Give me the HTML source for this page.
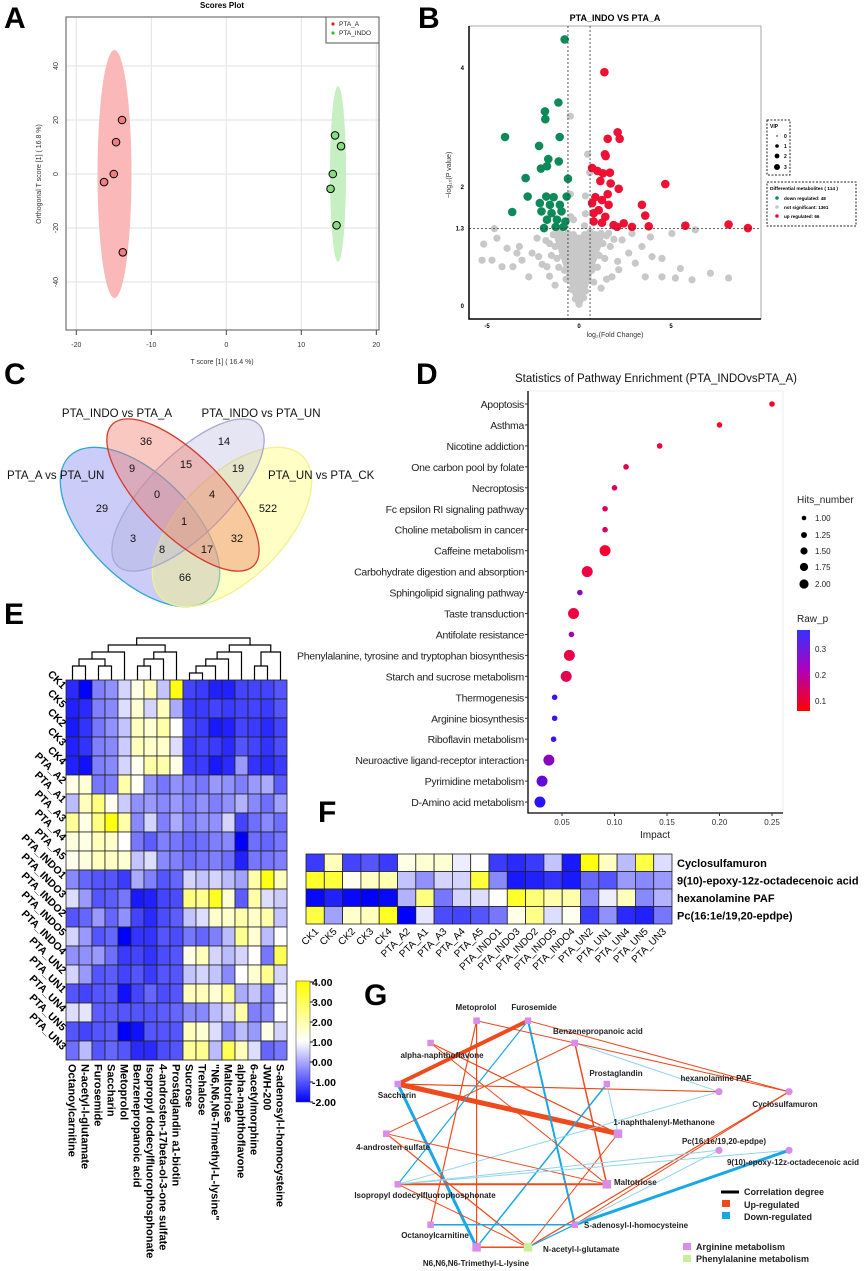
<!DOCTYPE html>
<html><head><meta charset="utf-8"><style>
html,body{margin:0;padding:0;background:#fff}
svg{display:block;font-family:"Liberation Sans",sans-serif}
</style></head><body>
<svg id="fig" width="864" height="1271" viewBox="0 0 864 1271" xmlns="http://www.w3.org/2000/svg"></svg>
<script>
// ---------- DATA ----------
// Panel A
const aRedX=[-13.9,-14.7,-15.0,-16.3,-13.8];
const aRedY=[20,11.8,0,-3,-29];
const aGreenX=[14.5,15.3,14.2,13.9,14.7];
const aGreenY=[14.3,10.3,0,-5.5,-19];
const aXTicks=[-20,-10,0,10,20];
const aYTicks=[-40,-20,0,20,40];
// Panel B
const bDown=[[-0.78,4.48],[-1.12,3.42],[-1.85,3.27],[-1.83,3.14],[-4.02,2.84],[-1.05,2.84],[-2.17,2.69],[-1.67,2.47],[-1.1,2.43],[-1.74,2.35],[-2.07,2.31],[-2.9,2.15],[-0.6,2.14],[-2.79,1.84],[-1.78,1.84],[-1.38,1.83],[-0.67,1.84],[-3.63,1.58],[-2.13,1.73],[-1.58,1.7],[-1.04,1.7],[-2.04,1.59],[-1.49,1.56],[-0.95,1.59],[-1.74,1.45],[-1.2,1.45],[-0.74,1.42],[-1.9,1.31],[-1.27,1.33],[-0.85,1.33]];
const bUp=[[1.38,3.93],[2.1,2.92],[1.56,2.81],[2.21,2.81],[1.41,2.55],[1.45,2.52],[0.71,2.32],[1.0,2.27],[1.3,2.23],[1.68,2.24],[1.16,2.1],[1.72,2.06],[2.16,1.97],[4.69,2.05],[1.56,1.88],[0.89,1.83],[0.71,1.73],[1.25,1.78],[3.42,1.7],[3.6,1.52],[1.61,1.7],[1.07,1.61],[0.8,1.56],[1.43,1.5],[0.8,1.42],[1.25,1.4],[1.88,1.36],[2.43,1.39],[2.07,1.33],[2.88,1.33],[3.79,1.34],[5.78,1.35],[8.13,1.37],[9.18,1.31]];
const bNs=[[-0.47,3.19],[0.47,2.55],[0.58,2.24],[0.35,1.85],[-0.47,1.88],[0.35,1.55],[-0.3,1.45],[0.3,1.35],[-0.45,1.5],
[-4.6,1.3],[-4.46,1.14],[-5.18,1.04],[-3.91,0.97],[-5.27,0.77],[-4.73,0.77],[-3.59,0.66],[-3.24,1.0],[-3.1,0.77],[-2.73,0.49],[-2.55,0.89],[-2.19,0.83],[-2.28,1.14],[-1.74,0.66],[-3.37,0.89],[-4.18,0.66],
[2.88,1.22],[3.88,1.16],[5.05,1.22],[6.32,1.28],[3.42,1.0],[3.97,0.83],[4.51,0.8],[5.51,0.63],[7.14,0.55],[8.13,0.47],[6.14,0.44],[5.24,0.47],[3.06,0.72],[2.7,0.89],[2.16,0.61],[1.79,0.49],[3.6,0.49],[4.51,0.49],[2.34,1.11],[1.61,1.22],
[-1.4,1.2],[-1.1,1.25],[-0.9,1.2],[-0.6,1.22],[-0.3,1.2],[0.3,1.2],[0.6,1.25],[0.9,1.2],[1.2,1.22],[1.5,1.18],
[-1.6,1.05],[-1.3,1.0],[-1.0,1.05],[-0.7,1.0],[-0.4,1.02],[0.4,1.0],[0.7,1.05],[1.0,1.0],[1.3,1.05],[1.7,1.0],
[-1.5,0.85],[-1.2,0.8],[-0.9,0.85],[-0.6,0.8],[-0.3,0.82],[0.2,0.8],[0.5,0.85],[0.8,0.8],[1.1,0.85],[1.4,0.8],
[-1.1,0.65],[-0.8,0.6],[-0.5,0.62],[-0.2,0.65],[0.1,0.6],[0.4,0.62],[0.7,0.6],[1.0,0.65],
[-0.7,0.45],[-0.4,0.42],[-0.1,0.45],[0.2,0.42],[0.5,0.45],[0.8,0.4],[-0.4,0.28],[-0.15,0.25],[0.1,0.28],[0.35,0.25],
[-0.2,0.12],[0.05,0.1],[0.25,0.14],[0,0.03],[-0.05,0.2],[0.15,0.35],[-0.3,0.55],[0.3,0.72],[-0.6,0.95],[0.9,0.92],[-1.8,1.1],[1.9,1.12],[-2.0,0.7],[2.1,0.75],[-1.6,0.5],[1.5,0.45],[-1.3,0.35],[1.2,0.3]];
const bXTicks=[-5,0,5];
const bYTicks=[0,1.3,2,4];
// Panel C
const vennNums=["36","14","9","15","19","29","0","4","522","1","3","8","17","32","66"];
// Panel D
const dPathways=["Apoptosis","Asthma","Nicotine addiction","One carbon pool by folate","Necroptosis","Fc epsilon RI signaling pathway","Choline metabolism in cancer","Caffeine metabolism","Carbohydrate digestion and absorption","Sphingolipid signaling pathway","Taste transduction","Antifolate resistance","Phenylalanine, tyrosine and tryptophan biosynthesis","Starch and sucrose metabolism","Thermogenesis","Arginine biosynthesis","Riboflavin metabolism","Neuroactive ligand-receptor interaction","Pyrimidine metabolism","D-Amino acid metabolism"];
const dImpact=[0.25,0.2,0.143,0.111,0.1,0.091,0.091,0.091,0.074,0.067,0.061,0.059,0.057,0.054,0.043,0.043,0.042,0.0375,0.031,0.029];
const dHits=[1,1,1,1,1,1,1,2,2,1,2,1,2,2,1,1,1,2,2,2];
const dRawP=[0.05,0.05,0.07,0.1,0.12,0.12,0.12,0.06,0.08,0.25,0.08,0.22,0.09,0.1,0.34,0.34,0.34,0.25,0.3,0.37];
const dXTicks=[0.05,0.10,0.15,0.20,0.25];
// Panel E
const eRows=["CK1","CK5","CK2","CK3","CK4","PTA_A2","PTA_A1","PTA_A3","PTA_A4","PTA_A5","PTA_INDO1","PTA_INDO3","PTA_INDO2","PTA_INDO5","PTA_INDO4","PTA_UN2","PTA_UN1","PTA_UN4","PTA_UN5","PTA_UN3"];
const eCols=["Octanoylcarnitine","N-acetyl-l-glutamate","Furosemide","Saccharin","Metoprolol","Benzenepropanoic acid","Isopropyl dodecylfluorophosphonate","4-androsten-17beta-ol-3-one sulfate","Prostaglandin a1-biotin","Sucrose","Trehalose","\"N6,N6,N6-Trimethyl-L-lysine\"","Maltotriose","alpha-naphthoflavone","6-acetylmorphine","JWH-200","S-adenosyl-l-homocysteine"];
const eVals=[
[-1.5,-2,-0.5,-0.3,0.5,1.3,1.8,0.3,3.8,-1.2,-1.3,-1.6,-1.6,-1.2,-1.2,-1.2,-1.0],
[-1.6,-1.5,-0.5,-0.4,0.6,1.5,0.5,1.8,0,-1.3,-1.3,-1.2,-1.3,-1.2,-1.2,-1.3,-1.0],
[-1.7,-1.4,-0.6,-0.3,0.3,1.8,1.5,2.0,1.0,-1.2,-1.3,-1.7,-1.6,-1.2,-1.3,-1.5,-1.2],
[-1.6,-1.4,-0.5,-0.4,0.4,1.8,1.6,1.6,0.6,-1.3,-1.2,-1.3,-1.5,-1.0,-1.2,-1.4,-1.1],
[-1.6,-1.8,-0.5,-0.4,0.5,1.2,2.0,2.0,1.3,-1.3,-1.3,-1.7,-1.5,-0.2,-1.4,-1.5,-1.3],
[1.3,1.5,-0.6,-0.5,2.0,1.1,-0.3,-0.6,-0.3,-0.5,-0.6,-0.2,-0.3,-0.5,-0.2,0.0,-0.9],
[0.2,1.8,2.5,1.2,0.4,-0.3,-0.2,-0.4,-0.2,-0.5,-0.3,-0.5,-0.3,0.1,-0.4,-0.7,-0.1],
[2.2,1.3,2.5,3.8,2.0,-0.4,0.5,-0.5,0,-0.5,-0.3,-0.3,0.5,-1.2,-0.7,-0.4,-0.7],
[1.4,1.3,1.8,1.6,1.0,-0.6,-0.9,-0.5,-0.6,-0.8,-0.7,-0.5,-0.4,-2.0,-0.7,-0.8,-0.6],
[1.2,1.4,1.8,1.7,1.5,0.3,0.6,-0.4,-0.5,-0.7,-0.6,-0.5,-0.7,-1.6,-0.6,-0.6,-0.5],
[-0.4,-0.8,-1.0,-1.0,-1.3,0,-0.5,-1.0,-0.8,0.5,0.3,0.5,0.2,-0.1,2.0,3.8,1.8],
[0.6,-0.2,-1.0,-0.9,-0.6,-1.7,-1.6,-1.2,-1.1,2.5,2.3,3.6,1.5,-0.9,2.0,0.6,0.4],
[-1.0,-0.8,-0.2,-0.8,-0.3,-1.2,-1.5,-1.1,-0.9,0.3,0.6,1.6,1.6,2.0,1.6,2.0,0.3],
[0.5,-0.2,-1.0,-0.8,-2.0,-1.4,-1.4,-1.0,-1.1,-0.6,-0.8,-0.5,0.2,2.3,1.5,0.2,1.0],
[-0.3,-0.3,-0.2,-0.7,-1.3,-1.2,-1.4,-1.1,-1.0,1.3,1.8,0.5,0.2,0.5,1.0,-0.6,3.0],
[0.5,-0.2,-1.0,-0.9,-1.2,-1.0,-1.3,-1.0,-1.0,0.3,0.5,0.3,-0.4,1.0,1.5,2.3,0.5],
[-1.0,-1.2,-1.0,-0.9,-1.8,-1.2,-0.8,-1.1,-1.0,1.8,1.8,1.5,2.2,0,0.3,-0.5,0.8],
[0.6,0.7,-0.9,-0.9,-1.0,-1.0,-1.0,-0.9,-0.8,-0.4,-0.4,0.2,0.5,2.0,-0.5,-0.4,1.0],
[-1.0,-1.2,-1.0,-0.9,-2.0,-1.8,-1.0,-1.0,-1.0,1.8,1.5,0.6,-0.4,0.2,-0.2,1.3,0.5],
[-0.7,0.2,-1.0,-0.8,-1.0,-1.5,-1.5,-1.1,-1.0,2.2,2.3,0.2,3.0,1.8,0.6,-0.8,-0.6]];
const eScaleTicks=[4,3,2,1,0,-1,-2];
// Panel F
const fRows=["Cyclosulfamuron","9(10)-epoxy-12z-octadecenoic acid","hexanolamine PAF","Pc(16:1e/19,20-epdpe)"];
const fCols=["CK1","CK5","CK2","CK3","CK4","PTA_A2","PTA_A1","PTA_A3","PTA_A4","PTA_A5","PTA_INDO1","PTA_INDO3","PTA_INDO2","PTA_INDO5","PTA_INDO4","PTA_UN2","PTA_UN1","PTA_UN4","PTA_UN5","PTA_UN3"];
const fVals=[
[-1.3,1.8,-1.2,-1.0,-1.3,1.3,1.5,1.5,0.8,1.0,-1.3,-1.5,-1.3,0.3,-1.7,3.8,1.7,0.2,3.2,0.6],
[3.5,3.3,1.2,1.7,1.9,0.3,-0.3,0.5,0.5,3.3,-0.4,-1.7,-1.6,-1.4,-1.7,-0.8,-1.0,-0.2,-0.4,-0.2],
[-1.9,-1.6,-1.9,-2.0,-1.9,0.1,2.5,-0.6,0.5,0.6,1.0,3.5,2.6,2.0,2.0,-0.4,0.8,1.8,-0.4,0.1],
[3.2,-0.1,1.6,1.8,3.6,-2.0,0.7,-1.1,-1.2,-1.0,-0.6,1.3,2.4,0.6,1.2,-1.3,-0.3,-1.5,-1.6,-0.6]];
// Panel G
const gNodes=["Metoprolol","Furosemide","Benzenepropanoic acid","alpha-naphthoflavone","Saccharin","Prostaglandin","hexanolamine PAF","Cyclosulfamuron","1-naphthalenyl-Methanone","4-androsten sulfate","Pc(16:1e/19,20-epdpe)","9(10)-epoxy-12z-octadecenoic acid","Isopropyl dodecylfluorophosphonate","Maltotriose","Octanoylcarnitine","S-adenosyl-l-homocysteine","N6,N6,N6-Trimethyl-L-lysine","N-acetyl-l-glutamate"];
const gEdges=[[4,1,"up",4],[4,8,"up",5],[4,6,"up",1.2],[4,16,"down",3],[1,15,"down",2],[1,12,"down",1.2],[1,7,"up",1],[0,16,"up",1.2],[0,14,"up",1.2],[0,2,"up",1],[3,8,"up",1.2],[3,13,"up",1],[2,13,"up",1.5],[2,9,"up",1],[2,6,"lightdown",1],[2,7,"up",1],[5,8,"lightdown",1],[5,16,"down",1.5],[6,12,"lightdown",1],[7,17,"up",1.2],[7,15,"up",1],[8,17,"up",1],[9,13,"up",1],[9,17,"up",1.2],[12,13,"up",2],[12,17,"up",1],[12,10,"lightdown",1],[12,11,"lightdown",1],[14,15,"down",1.5],[16,17,"up",1.5],[15,11,"down",3],[17,15,"down",1.2],[10,15,"lightdown",1]];

// ---------- HELPERS ----------
const NS="http://www.w3.org/2000/svg";
const svg=document.getElementById("fig");
function mk(tag,attrs,parent){const e=document.createElementNS(NS,tag);for(const k in attrs)e.setAttribute(k,attrs[k]);(parent||svg).appendChild(e);return e;}
function txt(s,attrs,parent){const e=mk("text",attrs,parent);e.textContent=s;return e;}
function heatColor(v){let r,g,b;if(v<=1){const t=Math.max(0,Math.min(1,(v+2)/3));r=255*t;g=255*t;b=255;}else{const t=Math.max(0,Math.min(1,(v-1)/3));r=255;g=255;b=255*(1-t);}return `rgb(${r|0},${g|0},${b|0})`;}
function pColor(p){const t=Math.max(0,Math.min(1,(p-0.05)/0.32));let r,g,b;if(t<0.5){const u=t/0.5;r=255-85*u;g=0;b=40+130*u;}else{const u=(t-0.5)/0.5;r=170-130*u;g=20*u;b=170+85*u;}return `rgb(${r|0},${g|0},${b|0})`;}

// panel letters
[["A",4,28],["B",418,28],["C",4,384],["D",416,384],["E",4,624],["F",318,822],["G",364,1005]].forEach(l=>{
 const e=txt(l[0],{x:l[1],y:l[2],"font-size":30,"font-weight":"bold",fill:"#000"});
 
 
});

// ---------- PANEL A ----------
const gA=mk("g",{});


const xA=v=>76.3+(v+20)*7.5, yA=v=>174-v*2.7;
aXTicks.forEach(t=>{const l=mk("line",{x1:xA(t),x2:xA(t),y1:17,y2:330,stroke:"#e2e2e2"},gA);
 
 
 const tk=mk("line",{x1:xA(t),x2:xA(t),y1:330,y2:335,stroke:"#444"},gA);
 
 
 const tl=txt(String(t),{x:xA(t),y:347,"font-size":7,"text-anchor":"middle",fill:"#333"},gA);
 
 });
aYTicks.forEach(t=>{const l=mk("line",{x1:66,x2:379,y1:yA(t),y2:yA(t),stroke:"#e2e2e2"},gA);
 
 
 const tl=txt(String(t),{x:58,y:yA(t),"font-size":7,"text-anchor":"middle",fill:"#333",transform:`rotate(-90 58 ${yA(t)})`},gA);
 
 });
const elR=mk("ellipse",{cx:114.5,cy:174,rx:17,ry:124,fill:"#fab8b8"},gA);


const elG=mk("ellipse",{cx:338,cy:174,rx:8,ry:88,fill:"#c6efc2"},gA);


aRedX.forEach((v,i)=>{const c=mk("circle",{cx:xA(v),cy:yA(aRedY[i]),r:3.8,fill:"#f07e7e",stroke:"#000","stroke-width":1},gA);
 
 });
aGreenX.forEach((v,i)=>{const c=mk("circle",{cx:xA(v),cy:yA(aGreenY[i]),r:3.8,fill:"#86dc80",stroke:"#000","stroke-width":1},gA);
 
 });
const boxA=mk("rect",{x:66,y:17,width:313,height:313,fill:"none",stroke:"#555"},gA);


const tA=txt("Scores Plot",{x:222,y:8,"font-size":8,"font-weight":"bold","text-anchor":"middle"},gA);


const xtA=txt("T score [1] ( 16.4 %)",{x:222,y:364,"font-size":7,"text-anchor":"middle",fill:"#333"},gA);


const ytA=txt("Orthogonal T score [1] ( 16.8 %)",{x:41,y:174,"font-size":7,"text-anchor":"middle",fill:"#333",transform:"rotate(-90 41 174)"},gA);


const lgA=mk("rect",{x:326,y:17,width:53,height:26,fill:"#fff",stroke:"#555"},gA);


[["PTA_A","#e02020",26],["PTA_INDO","#30c030",35]].forEach(l=>{
 const d=mk("circle",{cx:333,cy:l[2]-2,r:1.6,fill:l[1]},gA);
 
 
 const t=txt(l[0],{x:339,y:l[2],"font-size":6.5,fill:"#222"},gA);
 
 });

// ---------- PANEL B ----------
const gB=mk("g",{});


const xB=v=>579+v*18.4, yB=v=>306-v*59.5;
const frB=mk("rect",{x:469,y:26,width:292,height:293,fill:"#fff",stroke:"#aaa"},gB);


bNs.forEach(p=>{const c=mk("circle",{cx:xB(p[0]),cy:yB(p[1]),r:3.6,fill:"#c8c8c8"},gB);
 
 });
const pathFunnel=mk("path",{d:`M${xB(-1.4)},${yB(1.2)} L${xB(1.4)},${yB(1.2)} L${xB(0.15)},${yB(0)} L${xB(-0.15)},${yB(0)}Z`,fill:"#c8c8c8"},gB);


bDown.forEach(p=>{const c=mk("circle",{cx:xB(p[0]),cy:yB(p[1]),r:4.3,fill:"#0e8a5a"},gB);
 
 });
bUp.forEach(p=>{const c=mk("circle",{cx:xB(p[0]),cy:yB(p[1]),r:4.3,fill:"#ee1133"},gB);
 
 });
[[xB(-0.6),26,xB(-0.6),319],[xB(0.6),26,xB(0.6),319],[469,yB(1.3),761,yB(1.3)]].forEach(l=>{
 const e=mk("line",{x1:l[0],y1:l[1],x2:l[2],y2:l[3],stroke:"#333","stroke-dasharray":"2,2","stroke-width":0.8},gB);
 
 });
const axB=mk("path",{d:"M469,26 V319 H761",fill:"none",stroke:"#000","stroke-width":1.5},gB);


bYTicks.forEach(t=>{const e=txt(String(t),{x:464,y:yB(t)+2,"font-size":6,"font-weight":"bold","text-anchor":"end"},gB);
 
 });
bXTicks.forEach(t=>{const e=txt(String(t),{x:xB(t),y:328,"font-size":6,"font-weight":"bold","text-anchor":"middle"},gB);
 
 });
const tB=txt("PTA_INDO VS PTA_A",{x:615,y:21,"font-size":9,"font-weight":"bold","text-anchor":"middle"},gB);


const xtB=txt("log₂(Fold Change)",{x:615,y:337,"font-size":7,"text-anchor":"middle",fill:"#333"},gB);


const ytB=txt("−log₁₀(P value)",{x:451,y:175,"font-size":7,"text-anchor":"middle",fill:"#333",transform:"rotate(-90 451 175)"},gB);


const vipBox=mk("rect",{x:767,y:120,width:23,height:55,fill:"none",stroke:"#222","stroke-dasharray":"2,1.5"},gB);


const vipT=txt("VIP",{x:770,y:128,"font-size":5,"font-weight":"bold"},gB);


[[0,0.7,136],[1,1.8,146],[2,2.4,156],[3,3,167]].forEach(v=>{
 const c=mk("circle",{cx:777,cy:v[2],r:v[1],fill:"#000"},gB);
 
 
 const t=txt(String(v[0]),{x:784,y:v[2]+2,"font-size":5,"font-weight":"bold"},gB);
 
 });
const dmBox=mk("rect",{x:767,y:182,width:89,height:44,fill:"none",stroke:"#222","stroke-dasharray":"2,1.5"},gB);


const dmT=txt("Differential metabolites ( 114 )",{x:770,y:190,"font-size":4.8,"font-weight":"bold"},gB);


[["down regulated: 48","#0e8a5a",198],["not significant: 1361","#c8c8c8",207],["up regulated: 66","#ee1133",216]].forEach(l=>{
 const c=mk("circle",{cx:777,cy:l[2],r:1.8,fill:l[1]},gB);
 
 
 const t=txt(l[0],{x:784,y:l[2]+1.8,"font-size":4.6,"font-weight":"bold"},gB);
 
 });

// ---------- PANEL C ----------
const gC=mk("g",{});


[[140,527,100,52,45,"rgba(110,110,235,0.35)","#2fa8d8","set-pta-a-vs-pta-un"],
 [232,527,100,52,-45,"rgba(255,255,110,0.4)","#f2f090","set-pta-un-vs-pta-ck"],
 [188,495,100,40,-45,"rgba(170,170,215,0.3)","#a8a8d0","set-pta-indo-vs-pta-un"],
 [183,495,100,40,45,"rgba(240,120,100,0.4)","#d43a2a","set-pta-indo-vs-pta-a"]].forEach(e=>{
 const el=mk("ellipse",{cx:e[0],cy:e[1],rx:e[2],ry:e[3],transform:`rotate(${e[4]} ${e[0]} ${e[1]})`,fill:e[5],stroke:e[6],"stroke-width":1.3},gC);
 
 });
const vennPos=[[146,445],[224,445],[132,472],[186,468],[238,472],[102,512],[157,498],[212,498],[268,512],[184,525],[133,542],[162,553],[207,553],[237,542],[185,581]];
vennNums.forEach((n,i)=>{const t=txt(n,{x:vennPos[i][0],y:vennPos[i][1],"font-size":11,"text-anchor":"middle",fill:"#111"},gC);
 
 });
[["PTA_INDO vs PTA_A",117,417,"middle"],["PTA_INDO vs PTA_UN",261,417,"middle"],["PTA_A vs PTA_UN",7,479,"start"],["PTA_UN vs PTA_CK",268,479,"start"]].forEach(l=>{
 const t=txt(l[0],{x:l[1],y:l[2],"font-size":11.5,"text-anchor":l[3],fill:"#111"},gC);
 
 });

// ---------- PANEL D ----------
const gD=mk("g",{});


const xD=v=>562+(v-0.05)*1050, yD=i=>404+i*20.95;
const frD=mk("rect",{x:528,y:391,width:255,height:422,fill:"#fff",stroke:"#eee"},gD);


const axD=mk("path",{d:"M528,391 V813 H783",fill:"none",stroke:"#000","stroke-width":1.3},gD);


dPathways.forEach((p,i)=>{
 const t=txt(p,{x:524,y:yD(i)+4,"font-size":10.5,"text-anchor":"end",fill:"#222","letter-spacing":"-0.3"},gD);
 
 
 const tk=mk("line",{x1:525,x2:528,y1:yD(i),y2:yD(i),stroke:"#333"},gD);
 
 
 const c=mk("circle",{cx:xD(dImpact[i]),cy:yD(i),r:dHits[i]>1?5.5:2.8,fill:pColor(dRawP[i])},gD);
 
 });
dXTicks.forEach(t=>{
 const tk=mk("line",{x1:xD(t),x2:xD(t),y1:813,y2:816,stroke:"#333"},gD);
 
 
 const l=txt(t.toFixed(2),{x:xD(t),y:825,"font-size":8,"text-anchor":"middle",fill:"#333"},gD);
 
 });
const tD=txt("Statistics of Pathway Enrichment (PTA_INDOvsPTA_A)",{x:656,y:382,"font-size":11.5,"text-anchor":"middle",fill:"#111"},gD);


const xtD=txt("Impact",{x:655,y:838,"font-size":10,"text-anchor":"middle",fill:"#222"},gD);


const hT=txt("Hits_number",{x:797,y:503,"font-size":10,fill:"#222"},gD);


[["1.00",2.3,518],["1.25",3,535],["1.50",3.6,551],["1.75",4.1,567],["2.00",4.6,584]].forEach(h=>{
 const c=mk("circle",{cx:804,cy:h[2],r:h[1],fill:"#000"},gD);
 
 
 const t=txt(h[0],{x:815,y:h[2]+3,"font-size":8,fill:"#222"},gD);
 
 });
const rT=txt("Raw_p",{x:797,y:622,"font-size":10,fill:"#222"},gD);


const defs=mk("defs",{});
const lg=mk("linearGradient",{id:"rawp",x1:0,y1:0,x2:0,y2:1},defs);
[[0,"#3333ff"],[0.5,"#b000b8"],[1,"#ff0000"]].forEach(s=>mk("stop",{offset:s[0],"stop-color":s[1]},lg));
const rb=mk("rect",{x:797,y:630,width:13,height:81,fill:"url(#rawp)"},gD);


[["0.3",652],["0.2",678],["0.1",704]].forEach(r=>{
 const t=txt(r[0],{x:815,y:r[1],"font-size":8,fill:"#222"},gD);
 
 });

// ---------- PANEL E ----------
const gE=mk("g",{});


const eX0=66,eY0=680,eCW=13,eRH=19;
eVals.forEach((row,r)=>row.forEach((v,c)=>{
 const cell=mk("rect",{x:eX0+c*eCW,y:eY0+r*eRH,width:eCW,height:eRH,fill:heatColor(v),stroke:"#222","stroke-width":0.8},gE);
 
 }));
eRows.forEach((n,r)=>{const y=eY0+r*eRH+eRH/2;
 const t=txt(n,{x:62,y:y,"font-size":10.5,"font-weight":"bold","text-anchor":"end",transform:`rotate(45 62 ${y})`},gE);
 
 });
eCols.forEach((n,c)=>{const x=eX0+c*eCW+eCW/2-4;
 const t=txt(n,{x:x,y:1064,"font-size":11,"font-weight":"bold",transform:`rotate(90 ${x} 1064)`},gE);
 
 });
// dendrogram (tree structure: [left,right,yPixel])
const dendro=[[[[[0,1,666],[2,3,666],659],4,652],[[[5,6,666],7,659],8,652],645],[[[[[9,10,673],11,666],12,659],13,652],[[14,15,666],16,652],645],638];
function drawTree(n){if(typeof n==="number")return {x:eX0+n*eCW+eCW/2,y:eY0};
 const a=drawTree(n[0]),b=drawTree(n[1]),h=n[2];
 const p=mk("path",{d:`M${a.x},${a.y} V${h} H${b.x} V${b.y}`,fill:"none",stroke:"#000","stroke-width":1.2},gE);
 
 
 return {x:(a.x+b.x)/2,y:h};}
drawTree(dendro);
const lg2=mk("linearGradient",{id:"heatscale",x1:0,y1:0,x2:0,y2:1},defs);
[[0,"#ffff00"],[0.5,"#ffffff"],[1,"#0000ff"]].forEach(s=>mk("stop",{offset:s[0],"stop-color":s[1]},lg2));
const cb=mk("rect",{x:296,y:981,width:14,height:121,fill:"url(#heatscale)",stroke:"#333","stroke-width":0.5},gE);


eScaleTicks.forEach((t,i)=>{const y=982+i*20;
 const tk=mk("line",{x1:310,x2:313,y1:y,y2:y,stroke:"#000"},gE);
 
 
 const l=txt(t.toFixed(2),{x:312,y:y+4,"font-size":10.5,"font-weight":"bold"},gE);
 
 });

// ---------- PANEL F ----------
const gF=mk("g",{});


const fX0=306,fY0=854,fCW=18.3,fRH=17.5;
fVals.forEach((row,r)=>row.forEach((v,c)=>{
 const cell=mk("rect",{x:fX0+c*fCW,y:fY0+r*fRH,width:fCW,height:fRH,fill:heatColor(v),stroke:"#222","stroke-width":0.8},gF);
 
 }));
fRows.forEach((n,r)=>{const t=txt(n,{x:677,y:fY0+r*fRH+13,"font-size":11,"font-weight":"bold"},gF);
 
 });
fCols.forEach((n,c)=>{const x=fX0+c*fCW+fCW/2+4,y=932;
 const t=txt(n,{x:x,y:y,"font-size":10,"text-anchor":"end",transform:`rotate(-45 ${x} ${y})`},gF);
 
 });

// ---------- PANEL G ----------
const gG=mk("g",{});


const gPos=[[476.6,1020.7],[528,1020.7],[574.8,1043],[430.6,1043],[397.8,1084],[606.8,1084],[719,1091.7],[789,1091.7],[618,1133.7],[386.3,1133.7],[719,1150.3],[789,1150.3],[397.8,1184.3],[606.8,1184.3],[430.6,1224.7],[574.8,1224.7],[476.6,1247.3],[528,1247.3]];
const gShape=["sq","sq","sq","sq","sq","sq","ci","ci","sqL","sq","ci","ci","sq","sqL","sq","sq","sqL","sqG"];
const gLab=[[476,1010,"middle"],[534,1010,"middle"],[553,1034,"start"],[442,1058,"middle"],[397,1098,"middle"],[616,1076,"middle"],[716,1081,"middle"],[785,1107,"middle"],[664,1125,"middle"],[393,1150,"middle"],[724,1144,"middle"],[793,1165,"middle"],[425,1198,"middle"],[614,1185,"start"],[435,1238,"middle"],[584,1228,"start"],[476,1266,"middle"],[543,1252,"start"]];
const eColors={up:"#ee4a1c",down:"#18a8e6",lightdown:"#8fd4f0"};
gEdges.forEach(e=>{const a=gPos[e[0]],b=gPos[e[1]];
 const l=mk("line",{x1:a[0],y1:a[1],x2:b[0],y2:b[1],stroke:eColors[e[2]],"stroke-width":e[3]},gG);
 
 });
gNodes.forEach((n,i)=>{const p=gPos[i],s=gShape[i];let el;
 if(s==="ci")el=mk("circle",{cx:p[0],cy:p[1],r:3.6,fill:"#d98ce8"},gG);
 else{const w=s==="sq"?6.5:8.5;el=mk("rect",{x:p[0]-w/2,y:p[1]-w/2,width:w,height:w,fill:s==="sqG"?"#c8ef9a":"#d98ce8"},gG);}
 
 
 const t=txt(n,{x:gLab[i][0],y:gLab[i][1],"font-size":8,"font-weight":"bold","text-anchor":gLab[i][2],fill:"#222"},gG);
 
 });
const lgl=mk("line",{x1:721,x2:739,y1:1192,y2:1192,stroke:"#000","stroke-width":3},gG);


[["Correlation degree",744,1195],["Up-regulated",744,1208],["Down-regulated",744,1220],["Arginine metabolism",696,1250],["Phenylalanine metabolism",696,1262]].forEach(l=>{
 const t=txt(l[0],{x:l[1],y:l[2],"font-size":9,"font-weight":"bold",fill:"#222"},gG);
 
 });
[[722,1200,"#ee4a1c"],[722,1212,"#18a8e6"],[683,1243,"#d98ce8"],[683,1255,"#c8ef9a"]].forEach(s=>{
 const r=mk("rect",{x:s[0],y:s[1],width:8,height:7,fill:s[2]},gG);
 
 });
</script>
</body></html>
